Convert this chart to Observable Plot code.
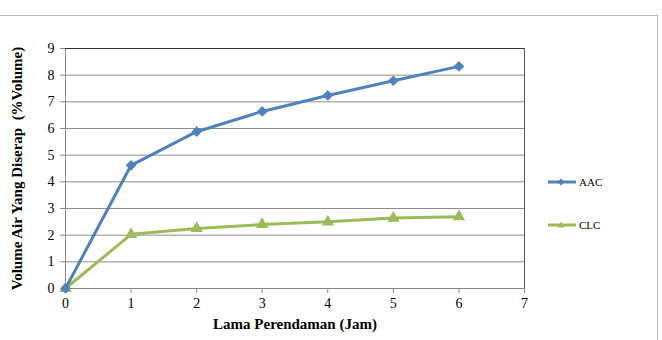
<!DOCTYPE html>
<html>
<head>
<meta charset="utf-8">
<script src="https://cdn.jsdelivr.net/npm/d3@7"></script>
<script src="https://cdn.jsdelivr.net/npm/@observablehq/plot@0.6"></script>
<style>
  html, body { margin: 0; padding: 0; background: #fff; }
  #wrap { position: relative; width: 662px; height: 340px; font-family: "Liberation Serif", "Times New Roman", serif; }
  #wrap svg, #wrap svg text { font-family: "Liberation Serif", "Times New Roman", serif !important; }
  #wrap svg g[aria-label$="tick label"] { font-size: 14px !important; font-variant: normal !important; }
  #wrap svg g[aria-label$="axis label"] { font-size: 15px !important; font-weight: bold !important; }
  #wrap svg.plot { position: absolute; left: 0; top: 0; }
  .bt { position: absolute; left: 0; top: 15px; width: 658px; height: 0; border-top: 1px solid #b8b8b8; }
  .br { position: absolute; left: 657px; top: 15px; width: 0; height: 325px; border-left: 1px solid #b8b8b8; }
  .legend { position: absolute; left: 547px; font-size: 11px; color: #000; display: flex; align-items: center; }
  .legend svg { display: block; margin-right: 2px; }
</style>
</head>
<body>
<div id="wrap"><div class="bt"></div><div class="br"></div></div>
<script>
const hours = [0, 1, 2, 3, 4, 5, 6];
const aac = [0, 4.62, 5.88, 6.64, 7.24, 7.79, 8.33];
const clc = [0, 2.03, 2.25, 2.40, 2.50, 2.64, 2.69];
const seriesNames = ["AAC", "CLC"];
const seriesColors = ["#4F81BD", "#9BBB59"];
const xTicks = [0, 1, 2, 3, 4, 5, 6, 7];
const yTicks = [0, 1, 2, 3, 4, 5, 6, 7, 8, 9];
const xTitle = "Lama Perendaman (Jam)";
const yTitle = "Volume Air Yang Diserap  (%Volume)";

const rowsA = hours.map((h, i) => ({h, v: aac[i]}));
const rowsC = hours.map((h, i) => ({h, v: clc[i]}));
const serif = "Liberation Serif";

const chart = Plot.plot({
  width: 662, height: 340,
  marginLeft: 65, marginRight: 138, marginTop: 48, marginBottom: 52,
  style: {fontFamily: serif, fontSize: "13px", color: "#000", background: "transparent"},
  x: {domain: [0, 7]},
  y: {domain: [0, 9]},
  marks: [
    Plot.gridY(yTicks.filter(d => d > 0 && d < 9), {stroke: "#8c8c8c", strokeOpacity: 1, strokeWidth: 1}),
    Plot.ruleX([0], {stroke: "#888"}),
    Plot.ruleY([0], {stroke: "#888"}),
    Plot.frame({anchor: "top", stroke: "#333"}),
    Plot.frame({anchor: "right", stroke: "#555"}),
    Plot.axisX({ticks: xTicks, tickFormat: d3.format("d"), tickSize: 5, tickPadding: 5, stroke: "#888", label: null, fill: "#000", fontFamily: serif, fontSize: 14}),
    Plot.axisY({ticks: yTicks, tickFormat: d3.format("d"), tickSize: 5, tickPadding: 6, stroke: "#888", label: null, fill: "#000", fontFamily: serif, fontSize: 14}),
    Plot.axisX({ticks: [], label: xTitle, labelAnchor: "center", labelArrow: "none", labelOffset: 40, fontWeight: "bold", fontSize: 15, fontFamily: serif}),
    Plot.axisY({ticks: [], label: yTitle, labelAnchor: "center", labelArrow: "none", labelOffset: 54, fontWeight: "bold", fontSize: 15, fontFamily: serif}),
    Plot.line(rowsC, {x: "h", y: "v", stroke: seriesColors[1], strokeWidth: 3}),
    Plot.dot(rowsC, {x: "h", y: "v", symbol: "triangle", fill: seriesColors[1], r: 4.6}),
    Plot.line(rowsA, {x: "h", y: "v", stroke: seriesColors[0], strokeWidth: 3}),
    Plot.dot(rowsA, {x: "h", y: "v", symbol: "diamond2", fill: seriesColors[0], r: 4.8})
  ]
});
const wrap = document.getElementById("wrap");
wrap.appendChild(chart);

const legendTops = [176, 219];
const symbolsPath = [
  "M14,1.5 L17.5,5 L14,8.5 L10.5,5 Z",
  "M14,1.5 L17.5,7.5 L10.5,7.5 Z"
];
seriesNames.forEach((name, i) => {
  const d = document.createElement("div");
  d.className = "legend";
  d.style.top = legendTops[i] + "px";
  d.innerHTML = `<svg width="30" height="10"><line x1="1" y1="5" x2="29" y2="5" stroke="${seriesColors[i]}" stroke-width="3"/><path d="${symbolsPath[i]}" fill="${seriesColors[i]}"/></svg><span>${name}</span>`;
  wrap.appendChild(d);
});
</script>
</body>
</html>
